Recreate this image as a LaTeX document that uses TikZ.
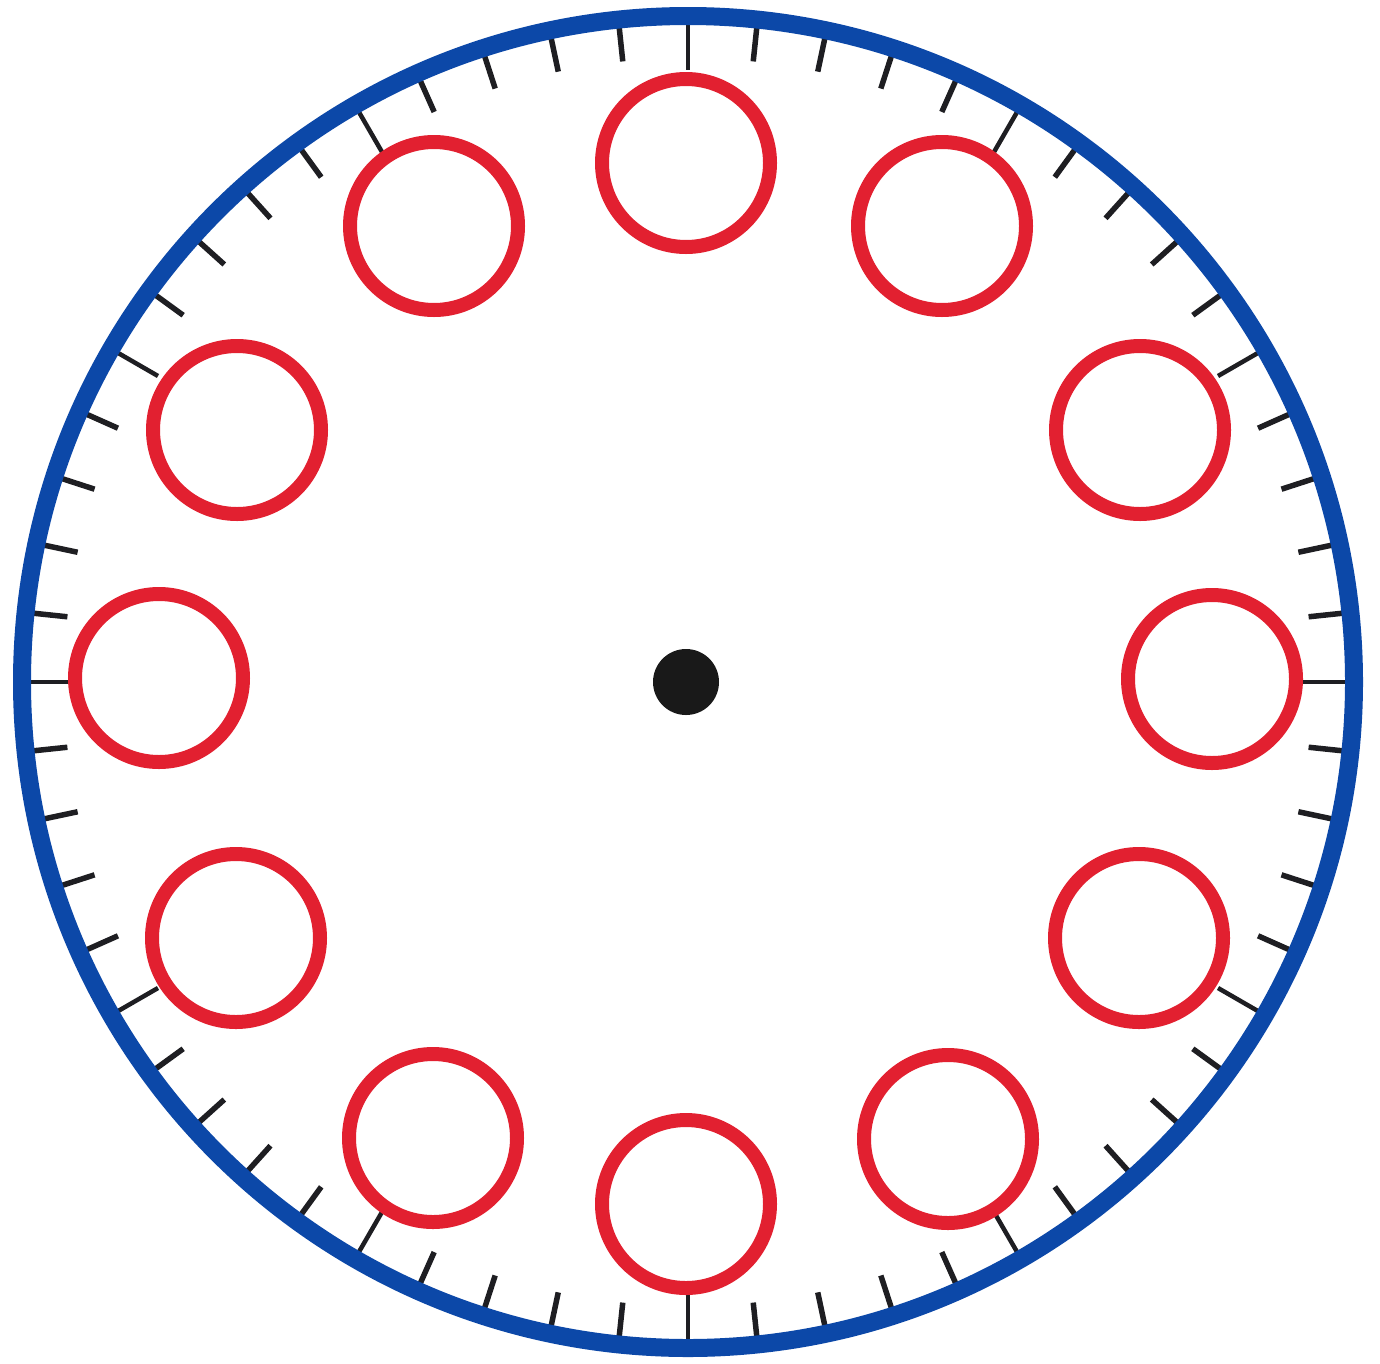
\documentclass[tikz,border=0pt]{standalone}
\usetikzlibrary{calc}
\definecolor{dialblue}{RGB}{12,72,168}
\definecolor{ringred}{RGB}{226,32,48}
\definecolor{tickgray}{RGB}{30,30,34}
\begin{document}
\begin{tikzpicture}[x=1pt,y=-1pt,
  hourring/.style={circle,draw=ringred,line width=14pt,inner sep=0pt,minimum size=168pt},
  minortick/.style={draw=tickgray,line width=5.5pt},
  majortick/.style={draw=tickgray,line width=4.5pt},
  rim/.style={draw=dialblue,line width=18pt}]
\useasboundingbox (0,0) rectangle (1380,1363);
\coordinate (c) at (688,682);
% ticks
\foreach \i in {0,...,59}{
  \pgfmathtruncatemacro{\m}{mod(\i,5)}
  \ifnum\m=0
    \draw[majortick] ($(c)+({90+6*\i}:660)$) -- ($(c)+({90+6*\i}:612)$);
  \else
    \draw[minortick] ($(c)+({90+6*\i}:660)$) -- ($(c)+({90+6*\i}:624)$);
  \fi
}
% rim
\draw[rim] (c) circle[radius=666];
% hour rings (positions in image pixels, y downward)
\foreach \k/\x/\y in {12/686/163, 1/942/226, 2/1140/430, 3/1212/679,
                      4/1139/938, 5/948/1139, 6/686/1204, 7/433/1138,
                      8/236/938, 9/159/678, 10/237/430, 11/434/226}{
  \node[hourring] (h\k) at (\x,\y) {};
}
% centre dot
\node[circle,fill=black!90,inner sep=0pt,minimum size=66pt] (hub) at (686,682) {};
\end{tikzpicture}
\end{document}
